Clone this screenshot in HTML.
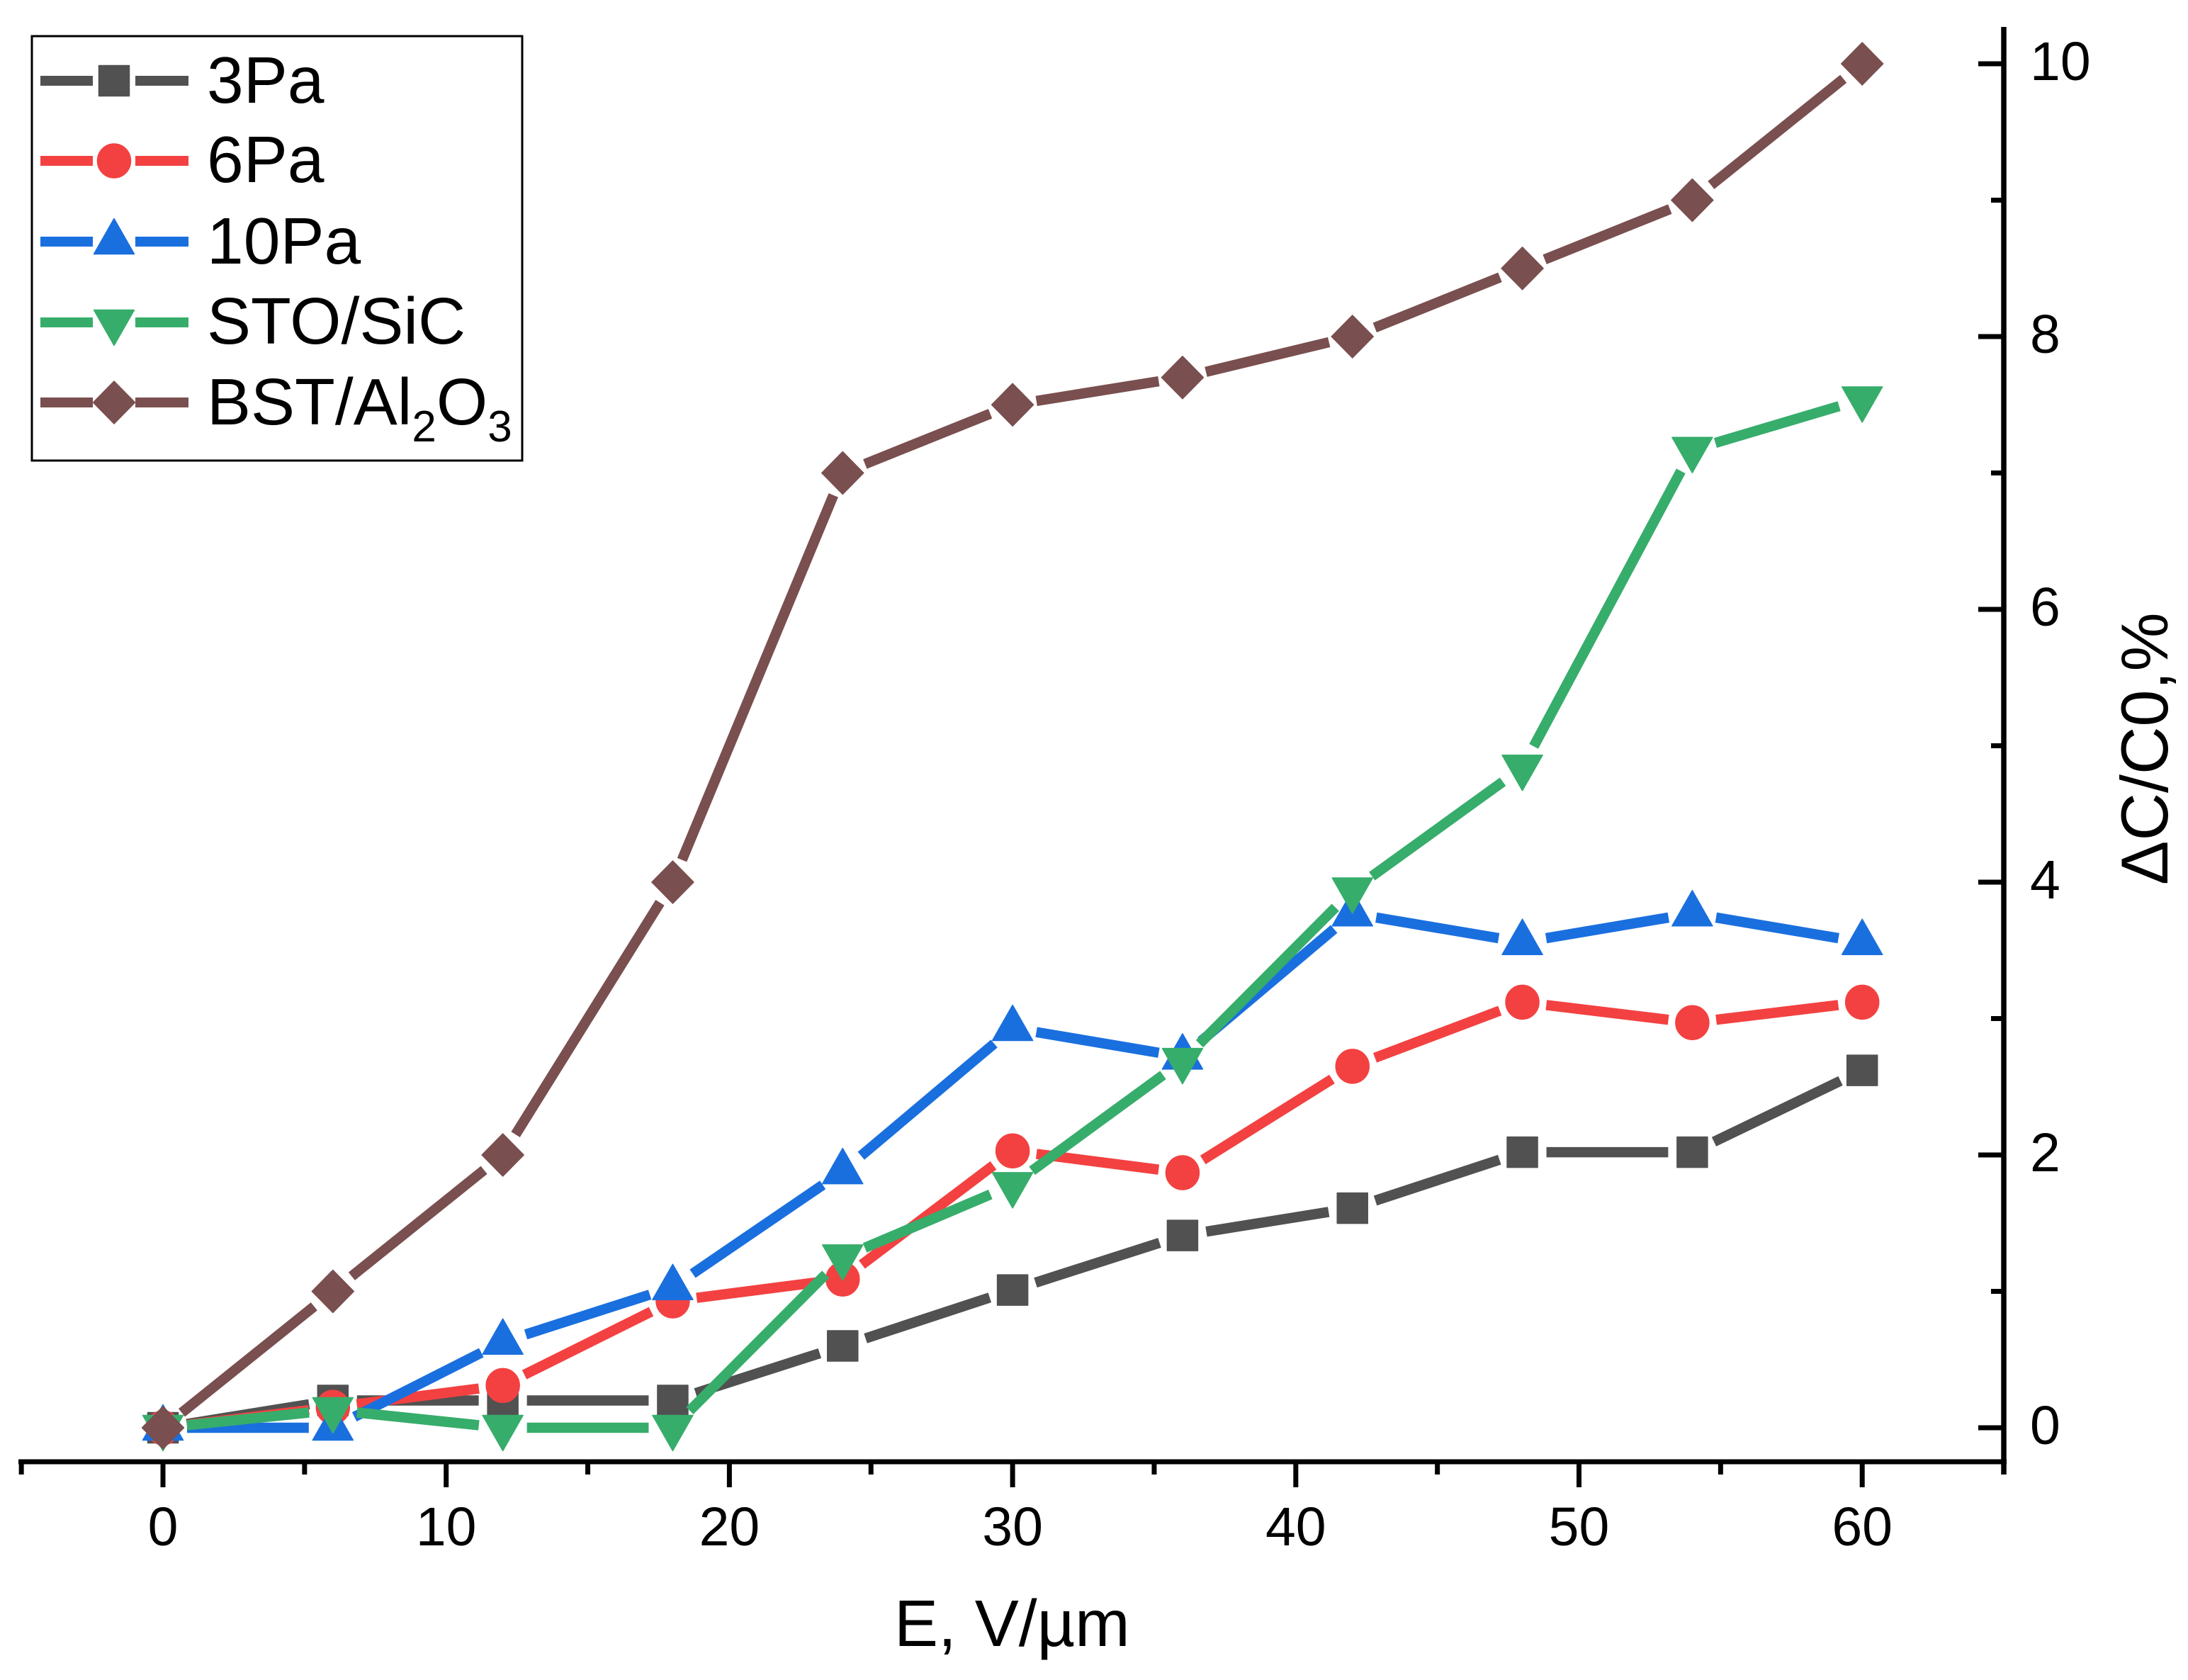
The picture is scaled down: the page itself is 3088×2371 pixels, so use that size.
<!DOCTYPE html>
<html lang="en">
<head>
<meta charset="utf-8">
<title>Tunability vs electric field</title>
<style>
html,body{margin:0;padding:0;background:#fff;width:3088px;height:2371px;overflow:hidden}
svg{display:block}
text{font-family:"Liberation Sans",sans-serif;fill:#000}
</style>
</head>
<body>
<svg id="chart" xmlns="http://www.w3.org/2000/svg" width="3088" height="2371" viewBox="0 0 3088 2371">
  <rect x="0" y="0" width="3088" height="2371" fill="#ffffff"/>
  <g id="axes"></g>
  <g id="series"></g>
  <text x="1262" y="2323" font-size="93">E, V/µm</text>
  <text transform="translate(3059 1249) rotate(-90)" x="0" y="0" font-size="93.5">ΔC/C0,%</text>
  <g id="legend">
    <rect x="45" y="51" width="692" height="599" fill="#ffffff" stroke="#000000" stroke-width="3"/>
  </g>
</svg>
<script>
const categories = [0, 6, 12, 18, 24, 30, 36, 42, 48, 54, 60];
const values3Pa = [0, 0.2, 0.2, 0.2, 0.6, 1.01, 1.41, 1.61, 2.02, 2.02, 2.62];
const values6Pa = [0, 0.15, 0.31, 0.93, 1.09, 2.03, 1.87, 2.65, 3.12, 2.97, 3.12];
const values10Pa = [0, 0, 0.63, 1.03, 1.88, 2.93, 2.72, 3.77, 3.56, 3.77, 3.56];
const valuesSTO = [0, 0.13, 0, 0, 1.25, 1.78, 2.69, 3.94, 4.84, 7.17, 7.54];
const valuesBST = [0, 1, 2, 4, 7, 7.5, 7.7, 8, 8.5, 9, 10];
const xTickLabels = [0, 10, 20, 30, 40, 50, 60];
const xMinorTicks = [-5, 5, 15, 25, 35, 45, 55, 65];
const yTickLabels = [0, 2, 4, 6, 8, 10];
const yMinorTicks = [1, 3, 5, 7, 9];

const SVG_NS = 'http://www.w3.org/2000/svg';
const xScale = v => 230 + v * 39.97;
const yScale = v => 2015 - v * 192.5;

function make(parent, tag, attrs, text) {
  const node = document.createElementNS(SVG_NS, tag);
  for (const k in attrs) node.setAttribute(k, attrs[k]);
  if (text !== undefined) node.textContent = text;
  parent.appendChild(node);
  return node;
}

const axes = document.getElementById('axes');
const seriesLayer = document.getElementById('series');
const legend = document.getElementById('legend');

const xAxisLine = make(axes, 'line', {x1: 26, x2: 2832, y1: 2063, y2: 2063, stroke: '#000', 'stroke-width': 7});


const yAxisLine = make(axes, 'line', {x1: 2828, x2: 2828, y1: 38, y2: 2081, stroke: '#000', 'stroke-width': 7.5});



xTickLabels.forEach(v => {
  const tick = make(axes, 'line', {x1: xScale(v), x2: xScale(v), y1: 2063, y2: 2099, stroke: '#000', 'stroke-width': 7});
  
  
  const label = make(axes, 'text', {x: xScale(v), y: 2181, 'font-size': 77, 'text-anchor': 'middle'}, String(v));
  
  
});
xMinorTicks.forEach(v => {
  const tick = make(axes, 'line', {x1: xScale(v), x2: xScale(v), y1: 2063, y2: 2081, stroke: '#000', 'stroke-width': 7});
  
  
});
yTickLabels.forEach(v => {
  const tick = make(axes, 'line', {x1: 2792, x2: 2828, y1: yScale(v), y2: yScale(v), stroke: '#000', 'stroke-width': 7});
  
  
  const label = make(axes, 'text', {x: 2865, y: yScale(v) + 23, 'font-size': 77}, String(v));
  
  
});
yMinorTicks.forEach(v => {
  const tick = make(axes, 'line', {x1: 2810, x2: 2828, y1: yScale(v), y2: yScale(v), stroke: '#000', 'stroke-width': 7});
  
  
});

function drawMarker(parent, kind, cx, cy, color) {
  const common = {fill: color, stroke: color, 'stroke-width': 1.5, 'stroke-linejoin': 'round'};
  if (kind === 'square') return make(parent, 'rect', Object.assign({x: cx - 21.5, y: cy - 21.5, width: 43, height: 43}, common));
  if (kind === 'circle') return make(parent, 'ellipse', Object.assign({cx: cx, cy: cy, rx: 23.5, ry: 24}, common));
  let pts;
  if (kind === 'up') pts = [[cx, cy - 32.5], [cx + 28.5, cy + 17.5], [cx - 28.5, cy + 17.5]];
  if (kind === 'down') pts = [[cx, cy + 32.5], [cx + 28.5, cy - 17.5], [cx - 28.5, cy - 17.5]];
  if (kind === 'diamond') pts = [[cx, cy - 30], [cx + 29.5, cy], [cx, cy + 30], [cx - 29.5, cy]];
  return make(parent, 'polygon', Object.assign({points: pts.map(p => p.join(',')).join(' ')}, common));
}

const GAP = 34;
function drawSegments(parent, values, color) {
  for (let i = 0; i < values.length - 1; i++) {
    const x1 = xScale(categories[i]), y1 = yScale(values[i]);
    const x2 = xScale(categories[i + 1]), y2 = yScale(values[i + 1]);
    const d = Math.hypot(x2 - x1, y2 - y1);
    if (d <= GAP * 2) continue;
    const ux = (x2 - x1) / d, uy = (y2 - y1) / d;
    const seg = make(parent, 'line', {x1: x1 + ux * GAP, y1: y1 + uy * GAP, x2: x2 - ux * GAP, y2: y2 - uy * GAP, stroke: color, 'stroke-width': 14.5});
    
    
  }
}

function drawSeries(slug, values, color, kind) {
  const group = make(seriesLayer, 'g', {});
  
  
  drawSegments(group, values, color);
  values.forEach((v, i) => {
    const point = drawMarker(group, kind, xScale(categories[i]), yScale(v), color);
    
    
  });
}

drawSeries('3pa', values3Pa, '#515151', 'square');
drawSeries('6pa', values6Pa, '#F34141', 'circle');
drawSeries('10pa', values10Pa, '#1A6FDF', 'up');
drawSeries('sto-sic', valuesSTO, '#37AD6B', 'down');
drawSeries('bst-al2o3', valuesBST, '#7A4F4F', 'diamond');

function legendEntry(slug, rowY, color, kind, textY, label) {
  const entry = make(legend, 'g', {});
  
  
  const left = make(entry, 'line', {x1: 57, x2: 131, y1: rowY, y2: rowY, stroke: color, 'stroke-width': 14});
  
  
  const right = make(entry, 'line', {x1: 191, x2: 266, y1: rowY, y2: rowY, stroke: color, 'stroke-width': 14});
  
  
  const symbol = drawMarker(entry, kind, 161, rowY, color);
  
  
  if (label) {
    const t = make(entry, 'text', {x: 292, y: textY, 'font-size': 93}, label);
    
    
  }
}
legendEntry('3pa', 114, '#515151', 'square', 145, '3Pa');
legendEntry('6pa', 227, '#F34141', 'circle', 257, '6Pa');
legendEntry('10pa', 341, '#1A6FDF', 'up', 372, '10Pa');
legendEntry('sto-sic', 455, '#37AD6B', 'down', 485, 'STO/SiC');
legendEntry('bst-al2o3', 568, '#7A4F4F', 'diamond', 599, '');

const bstLabel = make(legend, 'text', {x: 292, y: 599, 'font-size': 93});


make(bstLabel, 'tspan', {}, 'BST/Al');
make(bstLabel, 'tspan', {'font-size': 62, dy: 24}, '2');
make(bstLabel, 'tspan', {dy: -24}, 'O');
make(bstLabel, 'tspan', {'font-size': 62, dy: 24}, '3');
</script>
</body>
</html>
